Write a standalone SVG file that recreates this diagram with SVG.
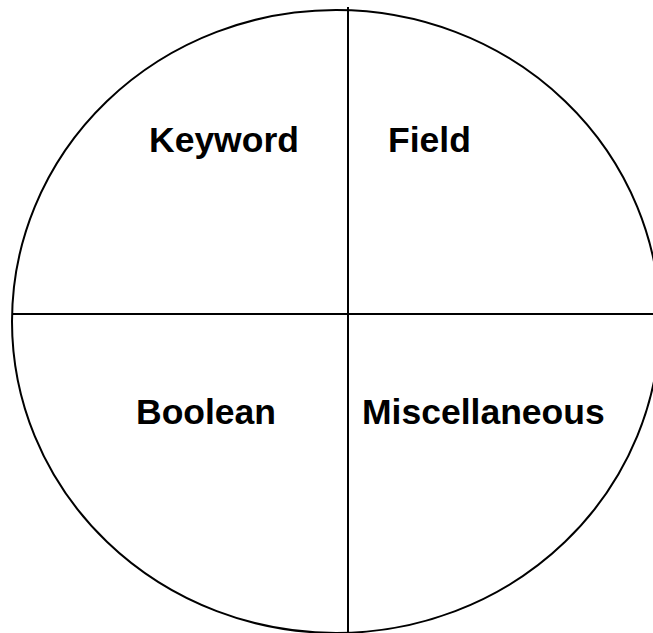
<svg xmlns="http://www.w3.org/2000/svg" width="653" height="633" viewBox="0 0 653 633">
<style>
.ln{stroke:#000;stroke-width:2;fill:none}
.lbl{font-family:"Liberation Sans",Arial,sans-serif;font-weight:bold;font-size:35.5px;fill:#000}
</style>
<rect width="653" height="633" fill="#fff"/>
<g id="connectors">
<ellipse class="ln" cx="336" cy="321.5" rx="324" ry="311.5"/>
<line class="ln" x1="348" y1="7" x2="348" y2="633"/>
<line class="ln" x1="12" y1="314" x2="653" y2="314"/>
</g>
<g id="keyword"><text class="lbl" x="149" y="152">Keyword</text></g>
<g id="field"><text class="lbl" x="388" y="152">Field</text></g>
<g id="boolean"><text class="lbl" x="136" y="424">Boolean</text></g>
<g id="misc"><text class="lbl" x="362" y="424">Miscellaneous</text></g>
</svg>
